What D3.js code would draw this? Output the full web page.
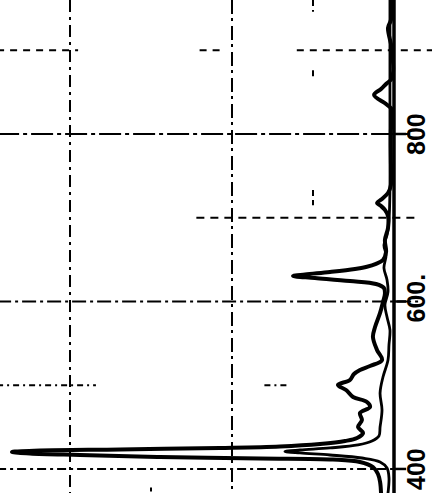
<!DOCTYPE html>
<html>
<head>
<meta charset="utf-8">
<script src="https://cdn.jsdelivr.net/npm/d3@7"></script>
<style>
  html, body { margin: 0; padding: 0; background: #fff; }
  svg { display: block; }
</style>
</head>
<body>
<svg id="chart" width="432" height="493"></svg>
<script>
// Spectrum A: strong emission line near 420 nm, structured band 440-590 nm, line near 630 nm
const wavelengthA = [371.3, 384.5, 394.0, 402.4, 408.4, 411.3, 412.5, 414.3, 416.7, 418.5,
  420.3, 422.1, 423.3, 425.1, 426.9, 429.9, 433.4, 437.0, 443.0, 450.1,
  458.5, 466.9, 474.0, 480.0, 486.0, 494.3, 500.3, 506.3, 513.4, 518.2,
  523.0, 530.1, 542.1, 557.6, 569.5, 586.3, 599.4, 609.0, 616.1, 620.9,
  624.5, 628.1, 630.4, 632.2, 635.2, 638.8, 641.2, 644.8, 649.5, 659.1,
  673.4, 687.8, 702.1, 709.3, 714.0, 717.6, 722.4, 729.5, 739.1, 769.0,
  804.8, 828.7, 835.8, 846.6, 853.7, 859.7, 866.9, 900.3, 926.6, 936.1, 960.0];
const intensityA = [0.080, 0.086, 0.099, 0.130, 0.210, 0.377, 0.827, 1.444, 1.938, 2.247,
  2.358, 2.185, 1.691, 1.074, 0.704, 0.457, 0.302, 0.228, 0.191, 0.222,
  0.198, 0.210, 0.148, 0.167, 0.253, 0.296, 0.346, 0.272, 0.247, 0.210,
  0.148, 0.074, 0.105, 0.130, 0.117, 0.086, 0.068, 0.056, 0.062, 0.111,
  0.272, 0.488, 0.623, 0.549, 0.395, 0.241, 0.173, 0.111, 0.068, 0.049,
  0.056, 0.037, 0.037, 0.056, 0.080, 0.105, 0.074, 0.037, 0.019, 0.019,
  0.019, 0.012, 0.049, 0.123, 0.080, 0.049, 0.012, 0.012, 0.037, 0.019, 0.012];

// Spectrum B: weaker line near 421 nm, otherwise close to the baseline
const wavelengthB = [371.3, 389.3, 401.2, 408.4, 413.1, 416.7, 419.1, 420.9, 422.7, 425.1,
  428.7, 433.4, 439.4, 450.1, 470.4, 490.7, 509.8, 530.1, 548.1, 566.0,
  581.5, 595.8, 611.3, 625.7, 640.0, 655.5, 667.5, 679.4, 697.3, 733.1,
  792.8, 864.5, 960.0];
const intensityB = [0.037, 0.031, 0.043, 0.086, 0.198, 0.395, 0.580, 0.673, 0.580, 0.395,
  0.222, 0.136, 0.093, 0.086, 0.074, 0.086, 0.068, 0.037, 0.031, 0.025,
  0.043, 0.056, 0.037, 0.043, 0.062, 0.049, 0.062, 0.043, 0.031, 0.025,
  0.025, 0.025, 0.025];

// Wavelength axis ticks (nm)
const tickWavelengths = [400, 600, 800];
const tickLabels = ["400", "600.", "800"];

// Grid
const gridWavelengths = [900, 800, 700, 600, 500, 400];
const gridIntensities = [2, 1, 0.5, 1.5];

const svg = d3.select("#chart");
const W = 432, H = 493;

// Wavelength runs up the page, intensity grows to the left of the baseline
const y = d3.scaleLinear().domain([371.3, 960]).range([H, 0]);
const x = d3.scaleLinear().domain([0, 2]).range([394, 70]);

// visible stretches of each grid line (intensity units for horizontal, nm for vertical)
const hSpans = {
  900: [[1.95, 2.45], [1.04, 1.2], [-0.25, 0.6]],
  800: [[-0.1, 2.45]],
  700: [[-0.15, 1.22]],
  600: [[-0.15, 2.45]],
  500: [[1.84, 2.45], [0.66, 0.8]],
  400: [[-0.1, 2.45]]
};
const hDash = { 900: "7,6", 800: "22,4,4,4", 700: "8,6", 600: "14,4,3,4", 500: "6,4,2,4", 400: "9,4,3,4" };
const vSpans = {
  2: [[371.3, 960]],
  1: [[371.3, 960]],
  0.5: [[946, 960], [866, 876], [715, 733]],
  1.5: [[372, 378]]
};
const vDash = { 2: "12,5,3,5", 1: "14,4,3,5", 0.5: "6,4", 1.5: "4,4" };

const grid = svg.append("g").attr("class", "grid")
  .attr("stroke", "#000").attr("stroke-width", 2).attr("fill", "none");

gridWavelengths.forEach(w => {
  hSpans[w].forEach(([a, b]) => {
    grid.append("line")
      .attr("x1", x(b)).attr("x2", x(a))
      .attr("y1", y(w)).attr("y2", y(w))
      .attr("stroke-dasharray", hDash[w]);
  });
});
gridIntensities.forEach(v => {
  vSpans[v].forEach(([a, b]) => {
    grid.append("line")
      .attr("x1", x(v)).attr("x2", x(v))
      .attr("y1", y(b)).attr("y2", y(a))
      .attr("stroke-dasharray", vDash[v]);
  });
});

// Baseline (zero intensity) doubles as the wavelength axis
svg.append("line")
  .attr("x1", x(0)).attr("x2", x(0))
  .attr("y1", 0).attr("y2", H)
  .attr("stroke", "#000").attr("stroke-width", 3.5);

// Ticks to the right of the axis
svg.append("g").selectAll("line").data(tickWavelengths).join("line")
  .attr("x1", x(0)).attr("x2", x(0) + 12)
  .attr("y1", d => y(d)).attr("y2", d => y(d))
  .attr("stroke", "#000").attr("stroke-width", 2.5);

svg.append("g").selectAll("text").data(tickWavelengths).join("text")
  .attr("transform", d => `translate(425, ${y(d) + 21}) rotate(-90)`)
  .attr("text-anchor", "start")
  .attr("font-family", "Liberation Sans, Arial, sans-serif")
  .attr("font-size", 25)
  .attr("font-weight", "bold")
  .attr("fill", "#000")
  .text((d, i) => tickLabels[i]);

// Spectra
const line = d3.line()
  .x(d => x(d[1]))
  .y(d => y(d[0]))
  .curve(d3.curveCatmullRom.alpha(0.5));

svg.append("path")
  .datum(d3.zip(wavelengthB, intensityB))
  .attr("d", line)
  .attr("fill", "none").attr("stroke", "#000")
  .attr("stroke-width", 2.8).attr("stroke-linejoin", "round").attr("stroke-linecap", "round");

svg.append("path")
  .datum(d3.zip(wavelengthA, intensityA))
  .attr("d", line)
  .attr("fill", "none").attr("stroke", "#000")
  .attr("stroke-width", 4).attr("stroke-linejoin", "round").attr("stroke-linecap", "round");
</script>
</body>
</html>
